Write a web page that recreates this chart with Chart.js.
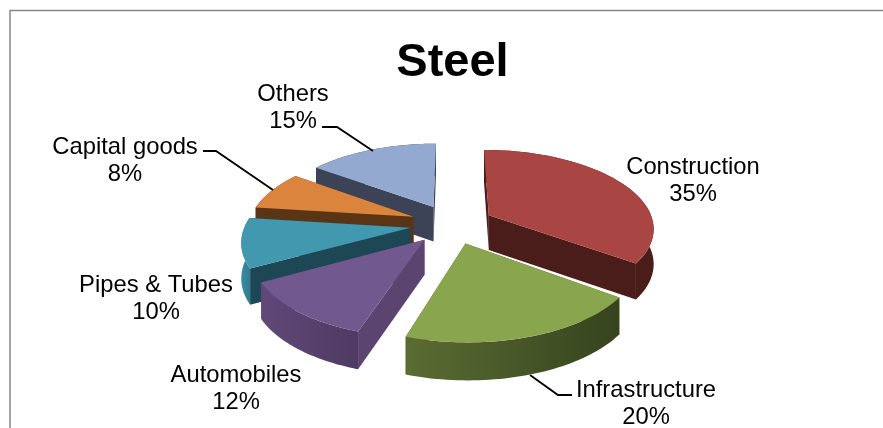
<!DOCTYPE html>
<html><head><meta charset="utf-8">
<style>html,body{margin:0;padding:0;background:#fff;overflow:hidden}canvas{display:block}</style>
<script src="https://cdn.jsdelivr.net/npm/chart.js@4"></script>
</head><body><canvas id="c" width="883" height="428"></canvas>
<script>
const categories = ['Construction','Infrastructure','Automobiles','Pipes & Tubes','Capital goods','Others'];
const shares = [35,20,12,10,8,15];
const topColors = ['#A94543','#89A54E','#71588F','#4198AF','#DB843D','#93A9CF'];
const wallColors = ['#4A1C1A','#56672F','#5C4470','#1D4755','#5A3515','#3C4356'];
const rimLight = ['#4A1C1A','#5A6C32','#604878','#3A8CA6','#5A3515','#3C4356'];
const rimDark = ['#4A1C1A','#36431E','#4E3A62','#2F7A90','#5A3515','#3C4356'];
const drawOrder = [5,4,3,0,2,1];
const labelBoxes = [[693,165],[646,388],[236,373],[156,283],[125,145],[293,92]];
const leaders = {1:[[530,375],[558,395],[572,395]],4:[[203,151],[216,151],[273,190]],5:[[322,127],[337,127],[373,151]]};
const view = {cx:452,cy:224,R:165,D:1100,k:0.47,depth:35};

function proj(X,Y,z){const s=view.D/(view.D-Y);return [view.cx+X*s,view.cy+Y*view.k*s+z*view.depth*Math.pow(s,0.4)];}
function pie3d(chart){
  const ctx=chart.ctx,els=chart.getDatasetMeta(0).data;
  drawOrder.forEach(i=>{
    const el=els[i],a0=el.startAngle,a1=el.endAngle,mid=(a0+a1)/2,off=el.options.offset;
    const ox=Math.cos(mid)*off,oy=Math.sin(mid)*off;
    const pt=(a,z)=>proj(ox+Math.cos(a)*view.R,oy+Math.sin(a)*view.R,z);
    const apex=z=>proj(ox,oy,z);
    const arc=z=>{const p=[];const n=48;for(let j=0;j<=n;j++)p.push(pt(a0+(a1-a0)*j/n,z));return p;};
    const poly=(pts,fill)=>{ctx.beginPath();pts.forEach((q,j)=>j?ctx.lineTo(q[0],q[1]):ctx.moveTo(q[0],q[1]));ctx.closePath();ctx.fillStyle=fill;ctx.fill();};
    const walls=[
      {y:(Math.sin(a0)*view.R/2+oy),f:()=>poly([apex(0),pt(a0,0),pt(a0,1),apex(1)],wallColors[i])},
      {y:(Math.sin(a1)*view.R/2+oy),f:()=>poly([apex(0),pt(a1,0),pt(a1,1),apex(1)],wallColors[i])},
      {y:(Math.sin(mid)*view.R+oy),f:()=>{
        const top=arc(0),bot=arc(1).reverse();
        const xs=top.map(q=>q[0]),g=ctx.createLinearGradient(Math.min(...xs),0,Math.max(...xs),0);
        g.addColorStop(0,rimLight[i]);g.addColorStop(1,rimDark[i]);
        poly(top.concat(bot),g);}}
    ].sort((p,q)=>p.y-q.y);
    walls.forEach(w=>w.f());
    poly([apex(0)].concat(arc(0)),el.options.backgroundColor);
  });
}
const plugin3d={id:'pie3d',
  beforeDatasetDraw(chart){pie3d(chart);return false;},
  afterDraw(chart){
    const ctx=chart.ctx;ctx.save();
    ctx.strokeStyle='#868686';ctx.lineWidth=1.5;
    ctx.beginPath();ctx.moveTo(10,428);ctx.lineTo(10,10.5);ctx.lineTo(883,10.5);ctx.stroke();
    ctx.strokeStyle='#000';ctx.lineWidth=1.8;
    Object.values(leaders).forEach(l=>{ctx.beginPath();l.forEach((q,j)=>j?ctx.lineTo(q[0],q[1]):ctx.moveTo(q[0],q[1]));ctx.stroke();});
    ctx.fillStyle='#000';ctx.font='23.8px "Liberation Sans"';ctx.textAlign='center';ctx.textBaseline='middle';
    categories.forEach((c,i)=>{const [x,y]=labelBoxes[i];ctx.fillText(c,x,y+2);ctx.fillText(shares[i]+'%',x,y+29);});
    ctx.restore();
  }};
new Chart(document.getElementById('c'),{
  type:'pie',
  data:{labels:categories,datasets:[{data:shares,backgroundColor:topColors,offset:42,borderWidth:0}]},
  options:{responsive:false,animation:false,layout:{padding:{left:22}},
    plugins:{legend:{display:false},tooltip:{enabled:false},
      title:{display:true,text:'Steel',color:'#000',align:'center',font:{family:'"Liberation Sans"',size:47,weight:'bold'},padding:{top:35,bottom:0}}}},
  plugins:[plugin3d]
});
</script></body></html>
